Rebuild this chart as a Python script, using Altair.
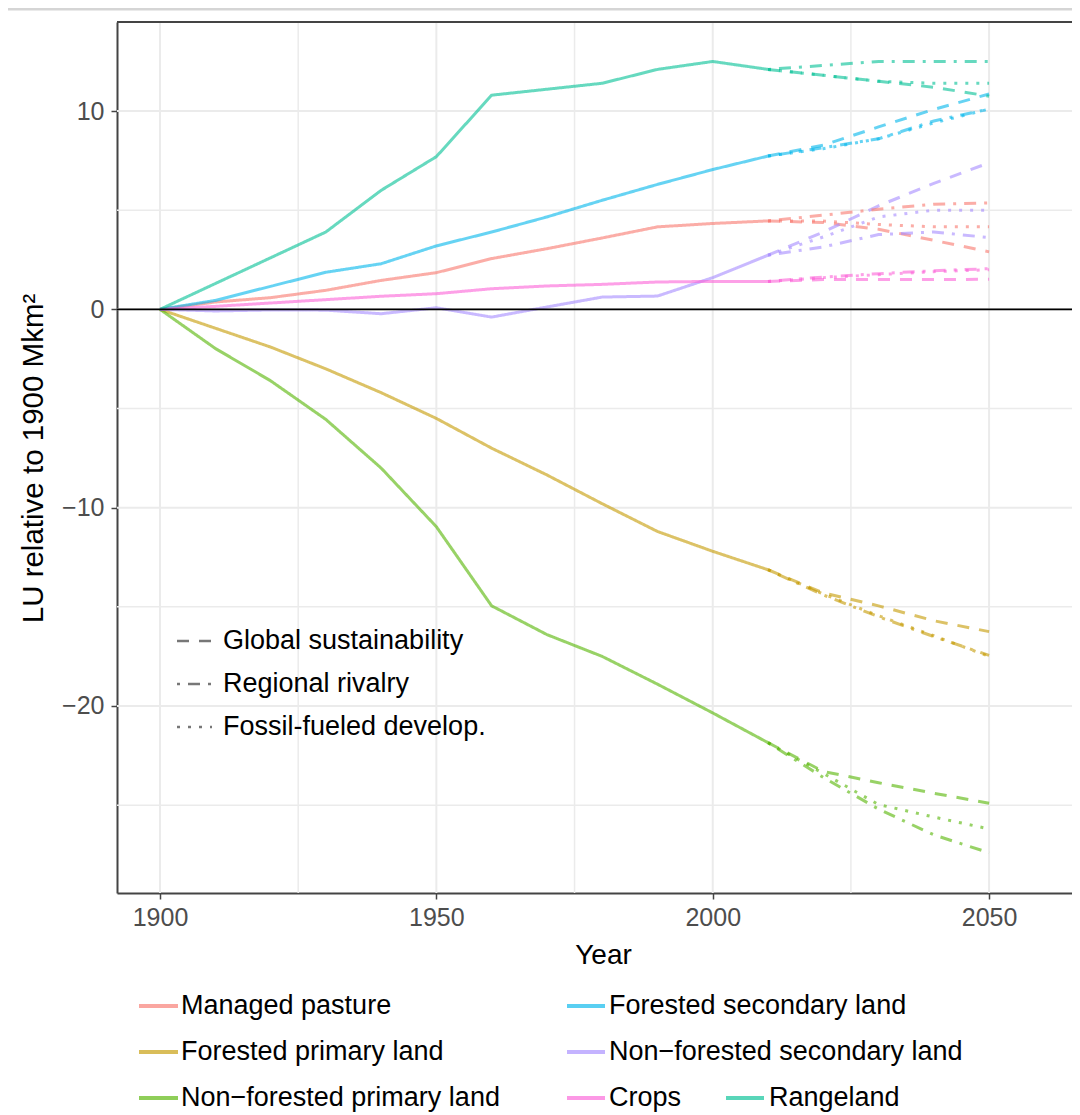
import altair as alt
import pandas as pd

# ---------------- data ----------------
categories = ["Managed pasture", "Forested primary land", "Non−forested primary land",
              "Forested secondary land", "Non−forested secondary land", "Crops", "Rangeland"]
colors = ["#F8766D", "#C49A00", "#53B400", "#00B6EB", "#A58AFF", "#FB61D7", "#00C094"]
scenarios = ["Global sustainability", "Regional rivalry", "Fossil-fueled develop."]

hist_years = [1900, 1910, 1920, 1930, 1940, 1950, 1960, 1970, 1980, 1990, 2000, 2010]
hist_managed_pasture = [0, 0.37, 0.59, 0.96, 1.46, 1.85, 2.56, 3.06, 3.6, 4.16, 4.33, 4.46]
hist_forested_primary = [0, -0.95, -1.9, -3.0, -4.2, -5.5, -7.0, -8.35, -9.8, -11.2, -12.2, -13.13]
hist_nonforested_primary = [0, -1.97, -3.6, -5.55, -8.0, -10.96, -14.95, -16.4, -17.5, -18.9, -20.35, -21.85]
hist_forested_secondary = [0, 0.45, 1.16, 1.87, 2.3, 3.2, 3.9, 4.66, 5.5, 6.3, 7.05, 7.73]
hist_nonforested_secondary = [0, -0.08, -0.03, -0.04, -0.22, 0.08, -0.39, 0.12, 0.62, 0.67, 1.6, 2.73]
hist_crops = [0, 0.15, 0.32, 0.49, 0.66, 0.79, 1.04, 1.18, 1.26, 1.38, 1.41, 1.41]
hist_rangeland = [0, 1.3, 2.6, 3.9, 6.0, 7.7, 10.8, 11.1, 11.4, 12.1, 12.5, 12.1]

scen_years = [2010, 2020, 2030, 2040, 2050]
# Global sustainability
gs_managed_pasture = [4.46, 4.38, 4.04, 3.48, 2.9]
gs_forested_primary = [-13.13, -14.3, -14.95, -15.7, -16.25]
gs_nonforested_primary = [-21.85, -23.3, -23.87, -24.4, -24.9]
gs_forested_secondary = [7.73, 8.28, 9.2, 10.08, 10.86]
gs_nonforested_secondary = [2.73, 3.9, 5.22, 6.35, 7.39]
gs_crops = [1.41, 1.5, 1.5, 1.5, 1.52]
gs_rangeland = [12.1, 11.8, 11.5, 11.2, 10.75]
# Regional rivalry
rr_managed_pasture = [4.46, 4.75, 5.05, 5.3, 5.37]
rr_forested_primary = [-13.13, -14.4, -15.5, -16.5, -17.45]
rr_nonforested_primary = [-21.85, -23.6, -25.2, -26.5, -27.4]
rr_forested_secondary = [7.73, 8.15, 8.6, 9.5, 10.1]
rr_nonforested_secondary = [2.73, 3.15, 3.77, 3.9, 3.62]
rr_crops = [1.41, 1.63, 1.8, 1.95, 2.05]
rr_rangeland = [12.1, 12.3, 12.5, 12.5, 12.5]
# Fossil-fueled development
ff_managed_pasture = [4.46, 4.45, 4.28, 4.16, 4.16]
ff_forested_primary = [-13.13, -14.35, -15.45, -16.46, -17.5]
ff_nonforested_primary = [-21.85, -23.4, -24.97, -25.6, -26.2]
ff_forested_secondary = [7.73, 8.1, 8.6, 9.4, 10.1]
ff_nonforested_secondary = [2.73, 3.65, 4.66, 5.0, 5.0]
ff_crops = [1.41, 1.6, 1.75, 1.9, 2.0]
ff_rangeland = [12.1, 11.8, 11.5, 11.4, 11.4]

x_major = [1900, 1950, 2000, 2050]
x_minor = [1925, 1975, 2025]
y_major = [-20, -10, 0, 10]
y_minor = [-25, -15, -5, 5]

# ---------------- build table ----------------
hist_series = [hist_managed_pasture, hist_forested_primary, hist_nonforested_primary,
               hist_forested_secondary, hist_nonforested_secondary, hist_crops, hist_rangeland]
scen_series = {
    scenarios[0]: [gs_managed_pasture, gs_forested_primary, gs_nonforested_primary,
                   gs_forested_secondary, gs_nonforested_secondary, gs_crops, gs_rangeland],
    scenarios[1]: [rr_managed_pasture, rr_forested_primary, rr_nonforested_primary,
                   rr_forested_secondary, rr_nonforested_secondary, rr_crops, rr_rangeland],
    scenarios[2]: [ff_managed_pasture, ff_forested_primary, ff_nonforested_primary,
                   ff_forested_secondary, ff_nonforested_secondary, ff_crops, ff_rangeland],
}
rows = []
for cat, vals in zip(categories, hist_series):
    for yr, v in zip(hist_years, vals):
        rows.append({"year": yr, "value": v, "category": cat, "scenario": "Historical",
                     "series": cat + "|Historical"})
for scen, lst in scen_series.items():
    for cat, vals in zip(categories, lst):
        for yr, v in zip(scen_years, vals):
            rows.append({"year": yr, "value": v, "category": cat, "scenario": scen,
                         "series": cat + "|" + scen})
df = pd.DataFrame(rows)

# ---------------- layout ----------------
W, H = 955, 871
x_scale = alt.Scale(domain=[1892.22, 2065.0], nice=False, zero=False)
y_scale = alt.Scale(domain=[-29.43, 14.49], nice=False, zero=False)
FRAME = "#444444"
GRID = "#EBEBEB"

x_axis = alt.Axis(values=x_major, format="d", title="Year", grid=False,
                  domainColor=FRAME, domainWidth=2, tickColor=FRAME, tickWidth=1.5,
                  tickSize=6, labelFontSize=25, labelColor="#4D4D4D", labelPadding=6,
                  labelFlush=False, titleFontSize=28, titleColor="black",
                  titleFontWeight="normal", titleX=486, titleY=70, titleAlign="center",
                  titleBaseline="alphabetic")
y_axis = alt.Axis(values=y_major, title="LU relative to 1900 Mkm²", grid=False,
                  domainColor=FRAME, domainWidth=2, tickColor=FRAME, tickWidth=1.5,
                  tickSize=6, labelFontSize=25, labelColor="#4D4D4D", labelPadding=7,
                  titleFontSize=29.5, titleColor="black", titleFontWeight="normal",
                  titleAngle=-90, titleX=-75, titleY=436, titleAlign="center",
                  titleBaseline="alphabetic")

vminor = alt.Chart(pd.DataFrame({"g": x_minor})).mark_rule(color=GRID, strokeWidth=1.5).encode(
    x=alt.X("g:Q", scale=x_scale, axis=x_axis))
vmajor = alt.Chart(pd.DataFrame({"g": x_major})).mark_rule(color=GRID, strokeWidth=2).encode(
    x=alt.X("g:Q", scale=x_scale, axis=x_axis))
hminor = alt.Chart(pd.DataFrame({"g": y_minor})).mark_rule(color=GRID, strokeWidth=1.5).encode(
    y=alt.Y("g:Q", scale=y_scale, axis=y_axis))
hmajor = alt.Chart(pd.DataFrame({"g": y_major})).mark_rule(color=GRID, strokeWidth=2).encode(
    y=alt.Y("g:Q", scale=y_scale, axis=y_axis))

lines = alt.Chart(df).mark_line(strokeWidth=3, opacity=0.6).encode(
    x=alt.X("year:Q", scale=x_scale, axis=x_axis),
    y=alt.Y("value:Q", scale=y_scale, axis=y_axis),
    color=alt.Color("category:N", scale=alt.Scale(domain=categories, range=colors), legend=None),
    strokeDash=alt.StrokeDash("scenario:N",
                              scale=alt.Scale(domain=["Historical"] + scenarios,
                                              range=[[1, 0], [12, 10], [3, 8, 12, 8], [3, 8]]),
                              legend=None),
    detail="series:N",
)

zero = alt.Chart(pd.DataFrame({"z": [0]})).mark_rule(color="black", strokeWidth=1.8).encode(
    y=alt.Y("z:Q", scale=y_scale, axis=y_axis))

one = pd.DataFrame({"k": [0]})
top_frame = alt.Chart(one).mark_rule(color=FRAME, strokeWidth=2).encode(
    x=alt.value(0), x2=alt.value(W), y=alt.value(0))
separator = alt.Chart(one).mark_rule(color="#D5D5D5", strokeWidth=3).encode(
    x=alt.value(-109), x2=alt.value(W), y=alt.value(-13))

layers = [vminor, vmajor, hminor, hmajor, lines, zero, top_frame, separator]

# linetype legend (inside plot)
lt_dashes = [[12, 10], [3, 8, 12, 8], [3, 8]]
lt_rows = [619, 662, 705]
for scen, dash, yy in zip(scenarios, lt_dashes, lt_rows):
    layers.append(alt.Chart(one).mark_rule(color="#777777", strokeWidth=2.5, strokeDash=dash).encode(
        x=alt.value(60), x2=alt.value(95), y=alt.value(yy)))
    layers.append(alt.Chart(one).mark_text(align="left", baseline="middle", fontSize=27,
                                           color="black").encode(
        x=alt.value(106), y=alt.value(yy), text=alt.value(scen)))

# colour legend (below plot)
col_sym = [(22, 61, 64), (450, 488, 492), (609, 647, 652)]
row_y = [984, 1030, 1076]
placement = [(0, 0), (0, 1), (0, 2), (1, 0), (1, 1), (1, 2), (2, 2)]
for cat, colr, (ci, ri) in zip(categories, colors, placement):
    x1, x2, xt = col_sym[ci]
    yy = row_y[ri]
    layers.append(alt.Chart(one).mark_rule(color=colr, strokeWidth=4, opacity=0.65).encode(
        x=alt.value(x1), x2=alt.value(x2), y=alt.value(yy)))
    layers.append(alt.Chart(one).mark_text(align="left", baseline="middle", fontSize=27,
                                           color="black").encode(
        x=alt.value(xt), y=alt.value(yy), text=alt.value(cat)))

chart = alt.layer(*layers).properties(
    width=W, height=H,
    autosize=alt.AutoSizeParams(type="none"),
    padding={"left": 109, "top": 14, "right": 0, "bottom": 228},
).configure(font="Liberation Sans").configure_view(stroke=None)

chart.save("out.html", embed_options={"renderer": "svg", "actions": False})
